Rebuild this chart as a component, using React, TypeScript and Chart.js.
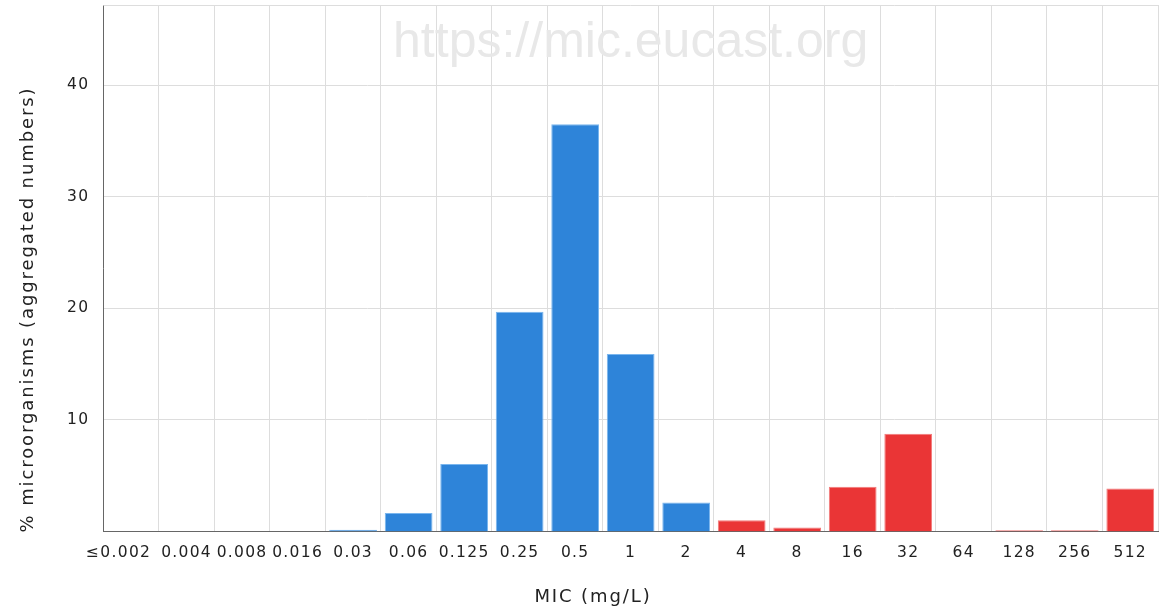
import React, { useEffect, useRef } from "react";
import { Chart, registerables } from "chart.js";

Chart.register(...registerables);

const categories = ["≤0.002", "0.004", "0.008", "0.016", "0.03", "0.06", "0.125", "0.25", "0.5", "1", "2", "4", "8", "16", "32", "64", "128", "256", "512"];
const values = [0, 0, 0, 0, 0.15, 1.65, 6.05, 19.7, 36.5, 15.9, 2.6, 1.0, 0.35, 4.0, 8.75, 0, 0.1, 0.1, 3.85];
const resistantFrom = 11; // index of "4"
const yTicks = [10, 20, 30, 40];
const yMax = 47.2;
const xTitle = "MIC (mg/L)";
const yTitle = "% microorganisms (aggregated numbers)";

const BLUE = "#2e84d9";
const RED = "#ea3536";
const FONT = "'DejaVu Sans', sans-serif";
const WM_FONT = "'Liberation Sans', Arial, sans-serif";
const SPACING = "1.3px";

const spacing = {
  id: "spacing",
  beforeUpdate(chart: any) {
    chart.ctx.letterSpacing = SPACING;
  },
  beforeDraw(chart: any) {
    chart.ctx.letterSpacing = SPACING;
  },
};

const extras = {
  id: "extras",
  beforeDatasetsDraw(chart: any) {
    const { ctx, chartArea } = chart;
    ctx.save();
    ctx.letterSpacing = "0px";
    ctx.font = `50px ${WM_FONT}`;
    ctx.fillStyle = "#e8e8e8";
    ctx.textAlign = "center";
    ctx.textBaseline = "middle";
    ctx.fillText("https://mic.eucast.org", (chartArea.left + chartArea.right) / 2, chartArea.top + 38);
    ctx.strokeStyle = "#dddddd";
    ctx.lineWidth = 1;
    ctx.beginPath();
    ctx.moveTo(chartArea.left, chartArea.top + 0.5);
    ctx.lineTo(chartArea.right, chartArea.top + 0.5);
    ctx.stroke();
    ctx.restore();
  },
  afterDraw(chart: any) {
    const { ctx } = chart;
    ctx.save();
    ctx.letterSpacing = "1.9px";
    ctx.font = `18px ${FONT}`;
    ctx.fillStyle = "#222";
    ctx.textAlign = "center";
    ctx.textBaseline = "middle";
    ctx.fillText(xTitle, chart.width / 2 + 9, 597);
    ctx.translate(28, chart.height / 2 + 4);
    ctx.rotate(-Math.PI / 2);
    ctx.fillText(yTitle, 0, 0);
    ctx.restore();
  },
};

export default function App() {
  const ref = useRef<HTMLCanvasElement>(null);
  useEffect(() => {
    const colors = values.map((_, i) => (i >= resistantFrom ? RED : BLUE));
    const borders = values.map((_, i) => (i >= resistantFrom ? "#f27a7a" : "#7ab6ee"));
    const chart = new Chart(ref.current!, {
      type: "bar",
      data: {
        labels: categories,
        datasets: [
          {
            data: values,
            backgroundColor: colors,
            borderColor: borders,
            borderWidth: 1,
            barPercentage: 0.86,
            categoryPercentage: 1,
          },
        ],
      },
      plugins: [spacing, extras],
      options: {
        animation: false,
        responsive: false,
        maintainAspectRatio: false,
        layout: { padding: { top: 5, right: 10, left: 53, bottom: 37 } },
        plugins: { legend: { display: false }, tooltip: { enabled: false } },
        scales: {
          x: {
            afterFit: (axis: any) => {
              axis.paddingLeft = 0;
              axis.paddingRight = 0;
            },
            grid: { color: "#dddddd", offset: true, drawTicks: false },
            border: { color: "#666666" },
            ticks: {
              color: "#222",
              font: { family: FONT, size: 15.5 },
              padding: 12,
              maxRotation: 0,
              autoSkip: false,
              callback: (_v: any, i: number) => (i === 0 ? categories[i] + "    " : categories[i]),
            },
          },
          y: {
            min: 0,
            max: yMax,
            afterBuildTicks: (axis: any) => {
              axis.ticks = yTicks.map((v) => ({ value: v }));
            },
            afterFit: (axis: any) => {
              axis.paddingTop = 0;
              axis.paddingBottom = 0;
            },
            grid: { color: "#dddddd", drawTicks: false },
            border: { color: "#666666" },
            ticks: { color: "#222", font: { family: FONT, size: 15.5 }, padding: 14 },
          },
        },
      },
    });
    return () => chart.destroy();
  }, []);
  return (
    <div style={{ position: "fixed", left: 0, top: 0, width: 1168, height: 611 }}>
      <canvas ref={ref} width={1168} height={611} style={{ width: 1168, height: 611 }} />
    </div>
  );
}
